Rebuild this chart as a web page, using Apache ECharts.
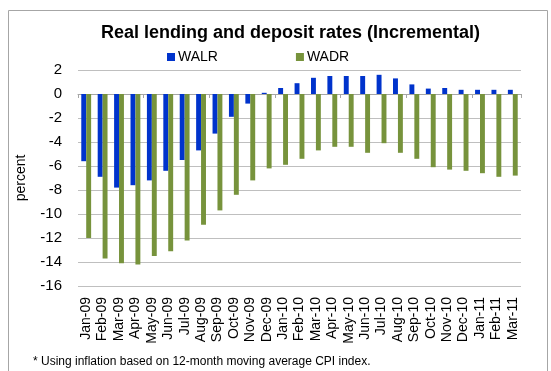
<!DOCTYPE html>
<html>
<head>
<meta charset="utf-8">
<script src="https://cdn.jsdelivr.net/npm/echarts@6/dist/echarts.min.js"></script>
<style>
  html, body { margin: 0; padding: 0; background: #fff; }
  #real_rates { width: 551px; height: 371px; }
</style>
</head>
<body>
<div id="real_rates"></div>
<script>
// months on the x axis
var months = ["Jan-09", "Feb-09", "Mar-09", "Apr-09", "May-09", "Jun-09", "Jul-09",
  "Aug-09", "Sep-09", "Oct-09", "Nov-09", "Dec-09", "Jan-10", "Feb-10", "Mar-10",
  "Apr-10", "May-10", "Jun-10", "Jul-10", "Aug-10", "Sep-10", "Oct-10", "Nov-10",
  "Dec-10", "Jan-11", "Feb-11", "Mar-11"];

// weighted average lending rate (real)
var walr = [-5.6, -6.9, -7.8, -7.6, -7.2, -6.4, -5.5, -4.7, -3.3, -1.9, -0.8, 0.1,
  0.5, 0.9, 1.35, 1.5, 1.5, 1.5, 1.6, 1.3, 0.8, 0.45, 0.5, 0.35, 0.35, 0.35, 0.35];

// weighted average deposit rate (real)
var wadr = [-12.0, -13.7, -14.1, -14.2, -13.5, -13.1, -12.2, -10.9, -9.7, -8.4, -7.2,
  -6.2, -5.9, -5.4, -4.7, -4.4, -4.4, -4.9, -4.1, -4.9, -5.4, -6.1, -6.3, -6.4, -6.6,
  -6.9, -6.8];

var fontName = "Liberation Sans";

var chart = echarts.init(document.getElementById("real_rates"));

chart.setOption({
  animation: false,
  textStyle: { fontFamily: fontName },
  title: {
    text: "Real lending and deposit rates (Incremental)",
    left: 96,
    top: 19,
    textStyle: { fontSize: 18, fontWeight: "bold", color: "#000", fontFamily: fontName }
  },
  legend: {
    top: 45,
    left: 162,
    itemWidth: 8,
    itemHeight: 8,
    itemGap: 78,
    icon: "rect",
    textStyle: { fontSize: 14, color: "#000", padding: [0, 0, 0, -2] },
    data: ["WALR", "WADR"]
  },
  grid: { left: 78, right: 30, top: 70, bottom: 85 },
  xAxis: [
    {
      type: "category",
      data: months,
      axisLine: { show: false, onZero: false },
      axisTick: { show: false },
      axisLabel: { rotate: 90, interval: 0, fontSize: 14, color: "#000", margin: 11 }
    },
    {
      // zero line with its tick marks
      type: "category",
      data: months,
      position: "bottom",
      axisLine: { onZero: true, lineStyle: { color: "#a6a6a6" } },
      axisTick: { show: true, length: 4, lineStyle: { color: "#a6a6a6" } },
      axisLabel: { show: false }
    }
  ],
  yAxis: {
    type: "value",
    min: -16,
    max: 2,
    interval: 2,
    name: "percent",
    nameLocation: "middle",
    nameGap: 50,
    nameTextStyle: { fontSize: 14, color: "#000" },
    axisLine: { show: false },
    axisTick: { show: false },
    axisLabel: { fontSize: 15, color: "#000", margin: 16 },
    splitLine: { lineStyle: { color: "#bfbfbf" } }
  },
  graphic: [
    {
      type: "rect",
      shape: { x: 8.5, y: 10.5, width: 539, height: 380 },
      style: { fill: null, stroke: "#a6a6a6", lineWidth: 1 },
      silent: true
    },
    {
      type: "text",
      left: 33,
      top: 356,
      style: {
        text: "* Using inflation based on 12-month moving average CPI index.",
        fontSize: 12,
        fill: "#000",
        fontFamily: fontName
      }
    }
  ],
  series: [
    {
      name: "WALR",
      type: "bar",
      data: walr,
      barGap: 0,
      barCategoryGap: "40%",
      itemStyle: { color: "#0033cc" }
    },
    {
      name: "WADR",
      type: "bar",
      data: wadr,
      barGap: 0,
      barCategoryGap: "40%",
      itemStyle: { color: "#77933c" }
    }
  ]
});
</script>
</body>
</html>
